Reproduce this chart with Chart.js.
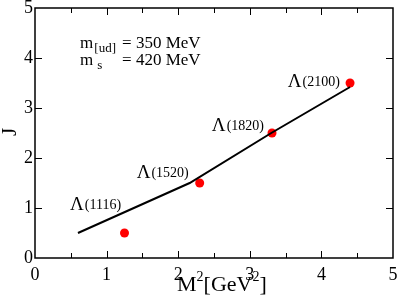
<!DOCTYPE html>
<html>
<head>
<meta charset="utf-8">
<script src="https://cdn.jsdelivr.net/npm/chart.js@4"></script>
<style>
  html, body { margin: 0; padding: 0; background: #fff; }
  #wrap { width: 399px; height: 300px; }
</style>
</head>
<body>
<div id="wrap"><canvas id="c" width="399" height="300"></canvas></div>
<script>
// trajectory line (fit) and the measured states
const lineM2 = [0.6, 2.16, 3.3, 4.4];
const lineJ = [0.5, 1.5, 2.5, 3.42];
const stateM2 = [1.25, 2.3, 3.31, 4.4];
const stateJ = [0.5, 1.5, 2.5, 3.5];
const stateNames = ["(1116)", "(1520)", "(1820)", "(2100)"];
// where each state label sits, in data units (left edge, baseline)
const labelM2 = [0.49, 1.42, 2.47, 3.53];
const labelJ = [0.96, 1.6, 2.54, 3.42];
const xTicks = [0, 1, 2, 3, 4, 5];
const yTicks = [0, 1, 2, 3, 4, 5];

const SERIF = "'Liberation Serif', 'DejaVu Serif', serif";

const frame = {
  id: "frame",
  afterDatasetsDraw(chart) {
    const { ctx, chartArea: a, scales: { x, y } } = chart;
    ctx.save();
    ctx.strokeStyle = "#000";
    ctx.lineWidth = 1.5;
    ctx.strokeRect(a.left, a.top, a.right - a.left, a.bottom - a.top);
    ctx.lineWidth = 1;
    ctx.beginPath();
    for (let v = 0.5; v < 5; v += 0.5) {
      const px = Math.round(x.getPixelForValue(v)) + 0.5;
      const len = v % 1 === 0 ? 7 : 5;
      ctx.moveTo(px, a.bottom); ctx.lineTo(px, a.bottom - len);
      ctx.moveTo(px, a.top); ctx.lineTo(px, a.top + len);
    }
    for (let v = 1; v < 5; v++) {
      const py = Math.round(y.getPixelForValue(v)) + 0.5;
      ctx.moveTo(a.left, py); ctx.lineTo(a.left + 7, py);
      ctx.moveTo(a.right, py); ctx.lineTo(a.right - 7, py);
    }
    ctx.stroke();

    ctx.fillStyle = "#000";
    ctx.textBaseline = "alphabetic";
    ctx.textAlign = "left";
    // state labels
    stateNames.forEach((n, i) => {
      const px = x.getPixelForValue(labelM2[i]);
      const py = y.getPixelForValue(labelJ[i]);
      ctx.font = "19px " + SERIF;
      ctx.fillText("\u039B", px, py);
      const w = ctx.measureText("\u039B").width;
      ctx.font = "14px " + SERIF;
      ctx.fillText(n, px + w + 1, py - 1);
    });

    // quark masses
    const mx = x.getPixelForValue(0.63);
    const r1 = y.getPixelForValue(4.2);
    const r2 = y.getPixelForValue(3.86);
    const eqx = mx + 42;
    ctx.font = "17px " + SERIF;
    ctx.fillText("m", mx, r1);
    ctx.fillText("m", mx, r2);
    const mw = ctx.measureText("m").width;
    ctx.font = "13px " + SERIF;
    ctx.fillText("[ud]", mx + mw + 1, r1 + 4);
    ctx.fillText("s", mx + mw + 4, r2 + 4);
    ctx.font = "17px " + SERIF;
    ctx.fillText("= 350 MeV", eqx, r1);
    ctx.fillText("= 420 MeV", eqx, r2);

    // axis titles
    let tx = 177;
    const ty = 291;
    ctx.font = "22px " + SERIF;
    ctx.fillText("M", tx, ty);
    tx += ctx.measureText("M").width;
    ctx.font = "14px " + SERIF;
    ctx.fillText("2", tx, ty - 10);
    tx += ctx.measureText("2").width;
    ctx.font = "22px " + SERIF;
    ctx.fillText("[GeV", tx, ty);
    tx += ctx.measureText("[GeV").width;
    ctx.font = "14px " + SERIF;
    ctx.fillText("2", tx, ty - 10);
    tx += ctx.measureText("2").width;
    ctx.font = "22px " + SERIF;
    ctx.fillText("]", tx, ty);

    ctx.translate(16, 132);
    ctx.rotate(-Math.PI / 2);
    ctx.textAlign = "center";
    ctx.font = "21px " + SERIF;
    ctx.fillText("J", 0, 0);
    ctx.restore();
  }
};

new Chart(document.getElementById("c"), {
  type: "scatter",
  data: {
    datasets: [
      {
        type: "line",
        data: lineM2.map((m, i) => ({ x: m, y: lineJ[i] })),
        borderColor: "#000",
        borderWidth: 2,
        pointRadius: 0,
        fill: false,
        tension: 0
      },
      {
        data: stateM2.map((m, i) => ({ x: m, y: stateJ[i] })),
        backgroundColor: "#ff0000",
        borderWidth: 0,
        pointRadius: 4.5
      }
    ]
  },
  options: {
    responsive: false,
    animation: false,
    layout: { padding: { top: 8, right: 6, left: 0, bottom: 0 } },
    plugins: { legend: { display: false }, tooltip: { enabled: false } },
    scales: {
      x: {
        type: "linear",
        min: 0, max: 5,
        afterBuildTicks: s => { s.ticks = xTicks.map(v => ({ value: v })); },
        afterFit: s => { s.height = 42; s.paddingLeft = 0; s.paddingRight = 0; },
        grid: { display: false, drawTicks: false },
        border: { display: false },
        ticks: { color: "#000", padding: 6, font: { family: SERIF, size: 18 } }
      },
      y: {
        min: 0, max: 5,
        afterBuildTicks: s => { s.ticks = yTicks.map(v => ({ value: v })); },
        afterFit: s => { s.width = 35; s.paddingTop = 0; s.paddingBottom = 0; },
        grid: { display: false, drawTicks: false },
        border: { display: false },
        ticks: { color: "#000", padding: 2, font: { family: SERIF, size: 18 } }
      }
    }
  },
  plugins: [frame]
});
</script>
</body>
</html>
